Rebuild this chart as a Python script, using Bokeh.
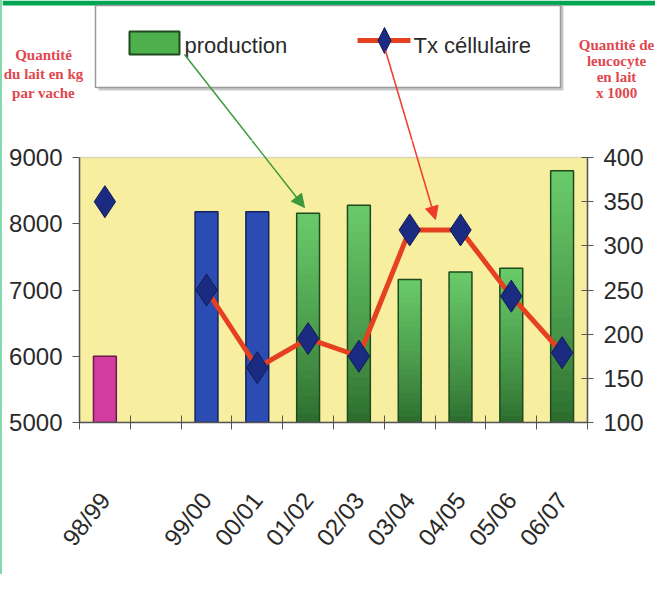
import numpy as np
from bokeh.plotting import figure
from bokeh.layouts import column
from bokeh.models import (Range1d, LinearAxis, FixedTicker, ColumnDataSource, BoxAnnotation,
                          Arrow, NormalHead)
from bokeh.embed import file_html
from bokeh.resources import INLINE

# ---------------- data ----------------
seasons = ["98/99", "", "99/00", "00/01", "01/02", "02/03", "03/04", "04/05", "05/06", "06/07"]
production = [6000, np.nan, 8180, 8180, 8160, 8280, 7160, 7270, 7330, 8800]
tx_cellulaire = [350, np.nan, 250, 162, 195, 175, 318, 318, 243, 179]
left_ticks = [5000, 6000, 7000, 8000, 9000]
right_ticks = [100, 150, 200, 250, 300, 350, 400]
legend_labels = ["production", "Tx céllulaire"]
left_title = ["Quantité", "du lait en kg", "par vache"]
right_title = ["Quantité de", "leucocyte", "en lait", "x 1000"]

# ---------------- style ----------------
bar_style = ["pink", None, "blue", "blue", "green", "green", "green", "green", "green", "green"]
PINK, BLUE = "#D23C9E", "#2B4DB3"
G_TOP, G_BOT = np.array([0x6A, 0xCB, 0x6A]), np.array([0x2A, 0x6A, 0x2C])
YELLOW = "#F7EF9F"
RED = "#E5401F"
NAVY = "#1C2B82"
TXT = "#2a2a2a"
TITLE_RED = "#E0474F"
FONT = "Liberation Sans"

W = 653
HA = 140            # header strip (legend, titles, arrows)
HB = 434            # chart
PX_PER_Y = 265 / 4000.0
EXTRA = 17 / PX_PER_Y   # room above the plot area (for the top tick labels)

# ======================= header figure =======================
a = figure(width=W, height=HA, output_backend="svg", toolbar_location=None,
           x_range=Range1d(0, W), y_range=Range1d(HA, 0),
           min_border=0, x_axis_type=None, y_axis_type=None)
a.frame_align = False
a.outline_line_color = None
a.grid.visible = False
a.background_fill_color = "white"
a.border_fill_color = "white"

# green band on top
a.quad(left=0, right=W, top=0, bottom=5, fill_color="#00A651", line_color=None)
# legend box with shadow
a.quad(left=96, right=561, top=5, bottom=90, fill_color="#c9c9c9", line_color=None)
a.quad(left=93, right=558, top=5, bottom=87, fill_color="white", line_color="#9a9a9a", line_width=1.5)
# production swatch
a.quad(left=127, right=177, top=31, bottom=54, fill_color="#4db04d", line_color="#1e4a1e", line_width=2)
a.text(x=[182], y=[45], text=[legend_labels[0]], text_baseline="middle", text_font_size="22px",
       text_font={"value": FONT}, text_color=TXT)
# Tx cellulaire symbol
a.line(x=[355, 408], y=[40, 40], line_color=RED, line_width=5)
a.patch(x=[375.5, 382, 388.5, 382], y=[40, 27, 40, 53], fill_color=NAVY, line_color="#101a55")
a.text(x=[411], y=[45], text=[legend_labels[1]], text_baseline="middle", text_font_size="22px",
       text_font={"value": FONT}, text_color=TXT)

# axis titles
a.text(x=[41] * 3, y=[54, 73, 92], text=left_title, text_align="center", text_baseline="middle",
       text_font={"value": "Liberation Serif"}, text_font_style="bold", text_font_size="15px",
       text_color=TITLE_RED)
a.text(x=[614] * 4, y=[44, 60, 76, 92], text=right_title, text_align="center", text_baseline="middle",
       text_font={"value": "Liberation Serif"}, text_font_style="bold", text_font_size="15px",
       text_color=TITLE_RED)

# arrows: upper parts (continue in the chart figure)
GREEN_ARROW = ((182, 54), (302, 207))
RED_ARROW = ((383, 50), (433, 219))


def cross(arrow, yc):
    (x0, y0), (x1, y1) = arrow
    t = (yc - y0) / (y1 - y0)
    return x0 + t * (x1 - x0)


for arr, col in [(GREEN_ARROW, "#3d9a3a"), (RED_ARROW, "#ee3a2a")]:
    (x0, y0), _ = arr
    a.line(x=[x0, cross(arr, HA + 1)], y=[y0, HA + 1], line_color=col, line_width=1.5)

# ======================= chart figure =======================
p = figure(width=W, height=HB, output_backend="svg", toolbar_location=None,
           x_range=Range1d(0, len(seasons)),
           y_range=Range1d(left_ticks[0], left_ticks[-1] + EXTRA),
           min_border_left=77, min_border_right=68, min_border_top=0, min_border_bottom=152)
p.frame_align = False
p.background_fill_color = "white"
p.border_fill_color = "white"
p.outline_line_color = None
p.grid.visible = False
tx_per_y = (right_ticks[-1] - right_ticks[0]) / (left_ticks[-1] - left_ticks[0])
p.extra_y_ranges = {"tx": Range1d(right_ticks[0], right_ticks[-1] + EXTRA * tx_per_y)}

# plot area
p.add_layout(BoxAnnotation(left=0, right=len(seasons), bottom=left_ticks[0], top=left_ticks[-1],
                           fill_color=YELLOW, fill_alpha=1, line_color="#8a8a8a", line_width=1.5,
                           level="underlay"))

xc = np.arange(len(seasons)) + 0.5
BASE = left_ticks[0]

# solid bars (pink / blue)
solid = [i for i, s in enumerate(bar_style) if s in ("pink", "blue")]
src_solid = ColumnDataSource(dict(
    x=[xc[i] for i in solid],
    top=[production[i] for i in solid],
    color=[PINK if bar_style[i] == "pink" else BLUE for i in solid],
    line=["#6a1850" if bar_style[i] == "pink" else "#15235e" for i in solid],
))
p.vbar(x="x", top="top", bottom=BASE, width=0.45, source=src_solid,
       fill_color="color", line_color="line", line_width=1.5)

# gradient green bars (stacked, overlapping slices)
green = [i for i, s in enumerate(bar_style) if s == "green"]
N = 24
gx, gb, gt, gc = [], [], [], []
for i in green:
    v = production[i]
    edges = np.linspace(BASE, v, N + 1)
    for k in range(N):
        f = (k + 0.5) / N
        c = G_BOT + (G_TOP - G_BOT) * f ** 0.8
        gx.append(xc[i]); gb.append(edges[k]); gt.append(edges[min(k + 2, N)])
        gc.append("#%02x%02x%02x" % tuple(int(round(t)) for t in c))
p.vbar(x=gx, bottom=gb, top=gt, width=0.45, fill_color=gc, line_color=None)
p.vbar(x=[xc[i] for i in green], top=[production[i] for i in green], bottom=BASE,
       width=0.45, fill_color=None, line_color="#1d4a1f", line_width=1.5)

# line + diamonds (right axis)
p.line(xc, tx_cellulaire, y_range_name="tx", line_color=RED, line_width=5)
p.scatter(xc, tx_cellulaire, y_range_name="tx", marker="diamond", size=32,
          fill_color=NAVY, line_color="#101a55", line_width=1)

# arrows: lower parts with heads (canvas units of this figure)
for arr, col in [(GREEN_ARROW, "#3d9a3a"), (RED_ARROW, "#ee3a2a")]:
    _, (x1, y1) = arr
    p.add_layout(Arrow(x_start=cross(arr, HA - 1), y_start=-1, x_end=x1, y_end=y1 - HA,
                       start_units="canvas", end_units="canvas", line_color=col, line_width=1.5,
                       end=NormalHead(size=13, fill_color=col, line_color=col)))

# ---------------- axes ----------------
xa = p.xaxis[0]
xa.ticker = FixedTicker(ticks=list(xc), minor_ticks=list(range(len(seasons) + 1)))
xa.major_label_overrides = {float(x): s for x, s in zip(xc, seasons)}
xa.major_tick_line_color = None
xa.minor_tick_in = 7
xa.minor_tick_out = 7
xa.minor_tick_line_color = "#555555"
xa.axis_line_color = "#555555"
xa.axis_line_width = 1.5
xa.major_label_orientation = 0.9
xa.major_label_standoff = 66
xa.major_label_text_font = FONT
xa.major_label_text_font_size = "24px"
xa.major_label_text_color = TXT

ya = p.yaxis[0]
ya.ticker = FixedTicker(ticks=left_ticks)
ya.bounds = (left_ticks[0], left_ticks[-1])
ya.major_tick_in = 0
ya.major_tick_out = 7
ya.minor_tick_line_color = None
ya.axis_line_color = "#555555"
ya.axis_line_width = 1.5
ya.major_tick_line_color = "#555555"
ya.major_label_standoff = 10
ya.major_label_text_font = FONT
ya.major_label_text_font_size = "24px"
ya.major_label_text_color = TXT

ra = LinearAxis(y_range_name="tx", ticker=FixedTicker(ticks=right_ticks),
                bounds=(right_ticks[0], right_ticks[-1]))
ra.major_tick_in = 6
ra.major_tick_out = 6
ra.minor_tick_line_color = None
ra.axis_line_color = "#555555"
ra.axis_line_width = 1.5
ra.major_tick_line_color = "#555555"
ra.major_label_standoff = 10
ra.major_label_text_font = FONT
ra.major_label_text_font_size = "24px"
ra.major_label_text_color = TXT
p.add_layout(ra, "right")

layout = column(a, p, spacing=0, styles={"border-left": "2px solid #86d9ae"})
open("out.html", "w").write(file_html(layout, INLINE))
